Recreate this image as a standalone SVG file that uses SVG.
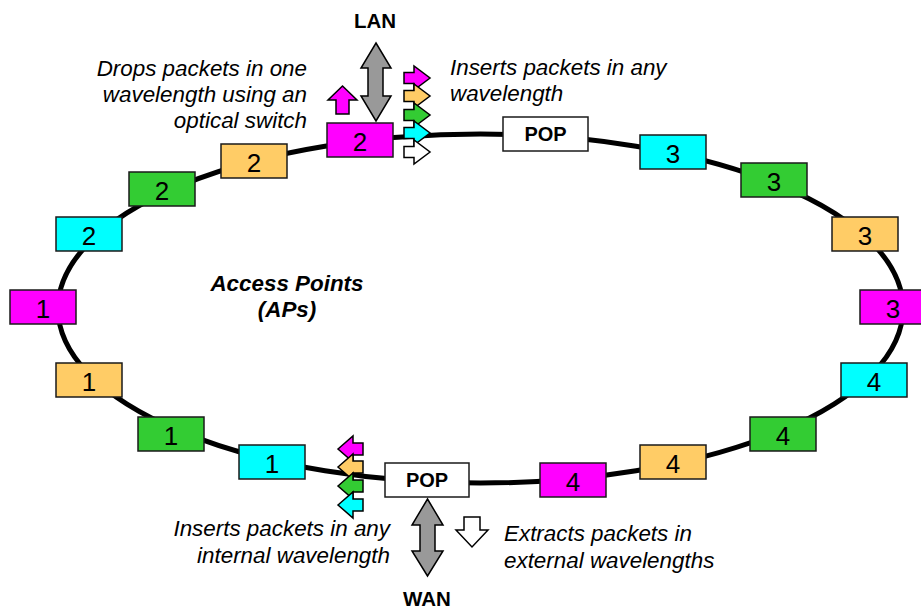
<svg xmlns="http://www.w3.org/2000/svg" xmlns:xlink="http://www.w3.org/1999/xlink" width="921" height="610" viewBox="0 0 921 610">
<style>
.box{stroke:#1a1a1a;stroke-width:1.5}
.num{font-family:"Liberation Sans",Arial,sans-serif;font-size:26px;text-anchor:middle;fill:#000}
.pop{font-family:"Liberation Sans",Arial,sans-serif;font-size:20px;font-weight:bold;text-anchor:middle;fill:#000}
.lbl{font-family:"Liberation Sans",Arial,sans-serif;font-size:22.4px;font-style:italic;fill:#000}
.ttl{font-family:"Liberation Sans",Arial,sans-serif;font-size:20.5px;font-weight:bold;text-anchor:middle;fill:#000}
.arr{stroke:#000;stroke-width:1.5;stroke-linejoin:miter}
.m{fill:#ff00ff}.o{fill:#ffcc66}.g{fill:#33cc33}.c{fill:#00ffff}.w{fill:#ffffff}.gr{fill:#999999}
</style>
<defs>
<path id="ra" d="M0,5.5 H10 V-1 L26,11 L10,23 V16.5 H0 Z"/>
<path id="la" d="M0,13 L15,0 V7 H25 V19 H15 V26 Z"/>
</defs>
<rect width="921" height="610" fill="#fff"/>
<g id="connectors">
<ellipse cx="480.5" cy="308.5" rx="422.5" ry="174.5" fill="none" stroke="#000" stroke-width="5"/>
</g>
<g id="ap-m2"><rect class="box m" x="327" y="123" width="66" height="34"/><text class="num" x="360" y="151">2</text></g>
<g id="ap-o2"><rect class="box o" x="221" y="144" width="66" height="34"/><text class="num" x="254" y="172">2</text></g>
<g id="ap-g2"><rect class="box g" x="129" y="172" width="66" height="34"/><text class="num" x="162" y="200">2</text></g>
<g id="ap-c2"><rect class="box c" x="56" y="217" width="66" height="34"/><text class="num" x="89" y="245">2</text></g>
<g id="ap-m1"><rect class="box m" x="10" y="290" width="66" height="34"/><text class="num" x="43" y="318">1</text></g>
<g id="ap-o1"><rect class="box o" x="56" y="363" width="66" height="34"/><text class="num" x="89" y="391">1</text></g>
<g id="ap-g1"><rect class="box g" x="138" y="417" width="66" height="34"/><text class="num" x="171" y="445">1</text></g>
<g id="ap-c1"><rect class="box c" x="239" y="445" width="66" height="34"/><text class="num" x="272" y="473">1</text></g>
<g id="pop-bottom"><rect class="box w" x="385" y="463" width="84" height="34"/><text class="pop" x="427" y="487">POP</text></g>
<g id="ap-m4"><rect class="box m" x="540" y="463" width="66" height="34"/><text class="num" x="573" y="491">4</text></g>
<g id="ap-o4"><rect class="box o" x="640" y="445" width="66" height="34"/><text class="num" x="673" y="473">4</text></g>
<g id="ap-g4"><rect class="box g" x="750" y="417" width="66" height="34"/><text class="num" x="783" y="445">4</text></g>
<g id="ap-c4"><rect class="box c" x="841" y="363" width="66" height="34"/><text class="num" x="874" y="391">4</text></g>
<g id="ap-m3"><rect class="box m" x="860" y="290" width="66" height="34"/><text class="num" x="893" y="318">3</text></g>
<g id="ap-o3"><rect class="box o" x="832" y="217" width="66" height="34"/><text class="num" x="865" y="245">3</text></g>
<g id="ap-g3"><rect class="box g" x="741" y="163" width="66" height="34"/><text class="num" x="774" y="191">3</text></g>
<g id="ap-c3"><rect class="box c" x="640" y="135" width="66" height="34"/><text class="num" x="673" y="163">3</text></g>
<g id="pop-top"><rect class="box w" x="503" y="117" width="85" height="34"/><text class="pop" x="545.5" y="141">POP</text></g>
<g id="lan-arrow"><path class="arr gr" d="M376,43 L391,68 H383 V96 H391 L376,121 L361,96 H368 V68 H361 Z"/><text class="ttl" x="375" y="28">LAN</text></g>
<g id="wan-arrow"><path class="arr gr" d="M427.5,499 L443,525 H435 V551 H443 L427.5,576 L412,551 H420 V525 H412 Z"/><text class="ttl" x="427" y="606">WAN</text></g>
<g id="drop-arrow"><path class="arr m" d="M342.5,86 L357,100 H349 V114 H336 V100 H328 Z"/></g>
<g id="extract-arrow"><path class="arr w" d="M464,517 H480 V530 H488 L472,547 L456,530 H464 Z"/></g>
<g id="insert-top">
<use href="#ra" class="arr m" transform="translate(404,67)"/>
<use href="#ra" class="arr o" transform="translate(404,85)"/>
<use href="#ra" class="arr g" transform="translate(404,104)"/>
<use href="#ra" class="arr c" transform="translate(404,122)"/>
<use href="#ra" class="arr w" transform="translate(404,141)"/>
</g>
<g id="insert-bottom">
<use href="#la" class="arr m" transform="translate(338,436)"/>
<use href="#la" class="arr o" transform="translate(338,454)"/>
<use href="#la" class="arr g" transform="translate(338,473)"/>
<use href="#la" class="arr c" transform="translate(338,492)"/>
</g>
<g id="labels">
<text class="lbl" text-anchor="end"><tspan x="307" y="76">Drops packets in one</tspan><tspan x="307" y="102">wavelength using an</tspan><tspan x="307" y="128">optical switch</tspan></text>
<text class="lbl"><tspan x="450" y="75">Inserts packets in any</tspan><tspan x="450" y="101">wavelength</tspan></text>
<text class="lbl" text-anchor="end"><tspan x="390" y="536">Inserts packets in any</tspan><tspan x="390" y="563">internal wavelength</tspan></text>
<text class="lbl"><tspan x="504" y="541">Extracts packets in</tspan><tspan x="504" y="568">external wavelengths</tspan></text>
<text class="lbl" font-weight="bold" text-anchor="middle"><tspan x="287" y="291">Access Points</tspan><tspan x="287" y="317">(APs)</tspan></text>
</g>
</svg>
